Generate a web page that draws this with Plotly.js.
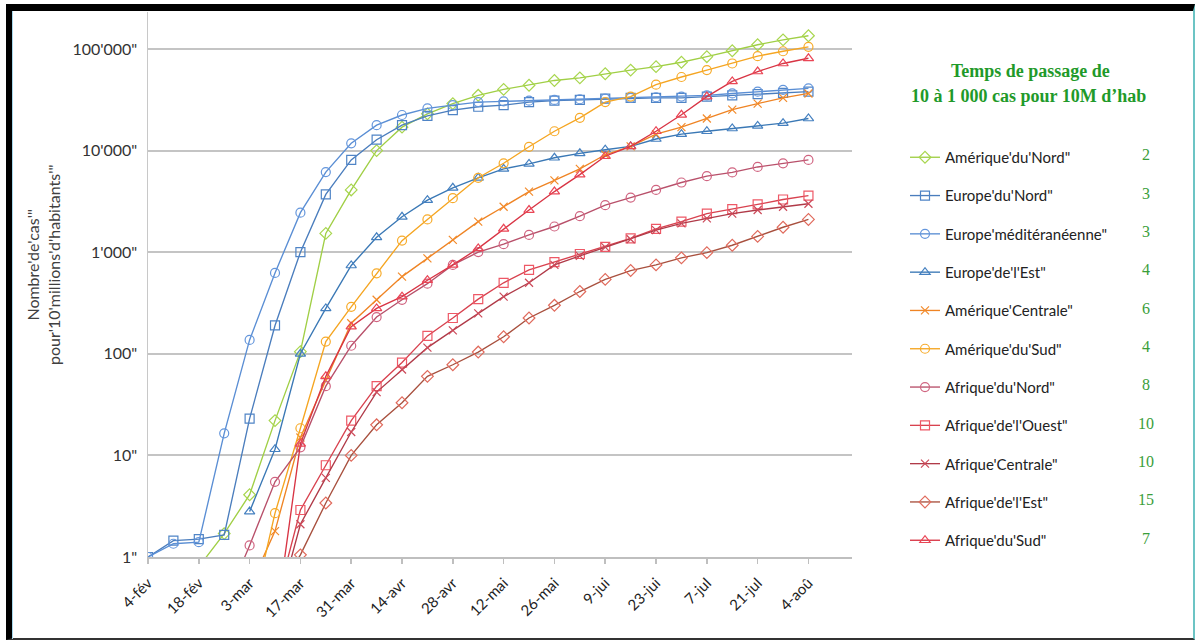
<!DOCTYPE html>
<html>
<head>
<meta charset="utf-8">
<script src="https://cdn.plot.ly/plotly-3.0.1.min.js"></script>
<style>
  html, body { margin: 0; padding: 0; background: #ffffff; }
  #wrap { position: relative; width: 1196px; height: 641px; overflow: hidden; }
  #chart { position: absolute; left: 0; top: 0; width: 1196px; height: 641px; }
  #frame { position: absolute; left: 6px; top: 4px; width: 1181px; height: 627px;
           border-top: 7px solid #000; border-left: 6px solid #000;
           border-right: 2px solid #6cc4c4; border-bottom: 2px solid #333;
           pointer-events: none; }
  #inner { position: absolute; left: 12px; top: 11px; width: 1px; height: 628px; background: #a8d8ec; pointer-events: none; }
</style>
</head>
<body>
<div id="wrap">
  <div id="chart"></div>
  <div id="frame"></div>
  <div id="inner"></div>
</div>
<script>
// Weekly dates (categories)
const weeks = ['2020-02-04','2020-02-11','2020-02-18','2020-02-25','2020-03-03','2020-03-10','2020-03-17',
  '2020-03-24','2020-03-31','2020-04-07','2020-04-14','2020-04-21','2020-04-28','2020-05-05','2020-05-12',
  '2020-05-19','2020-05-26','2020-06-02','2020-06-09','2020-06-16','2020-06-23','2020-06-30','2020-07-07',
  '2020-07-14','2020-07-21','2020-07-28','2020-08-04'];

// X tick positions and labels
const tickDates = ['2020-02-04','2020-02-18','2020-03-03','2020-03-17','2020-03-31','2020-04-14','2020-04-28',
  '2020-05-12','2020-05-26','2020-06-09','2020-06-23','2020-07-07','2020-07-21','2020-08-04'];
const tickLabels = ['4-fév','18-fév','3-mar','17-mar','31-mar','14-avr','28-avr','12-mai','26-mai',
  '9-jui','23-jui','7-jul','21-jul','4-aoû'];

// Y ticks
const yTickVals = [1, 10, 100, 1000, 10000, 100000];
const yTickText = ['1"', '10"', '100"', "1'000\"", "10'000\"", "100'000\""];

// Series values (cases per 10 million inhabitants)
const amNord     = [null,null,0.8,1.7,4.1,22,105,1530,4100,10000,17000,23000,29000,35000,40000,44000,49000,52000,57000,62000,67000,74000,84000,96000,110000,123000,135000];
const euNord     = [1,1.45,1.5,1.65,23,190,1000,3700,8100,12800,17800,22000,25000,27000,28000,30000,31000,31500,32500,33000,33000,33000,34000,35000,36000,37000,38000];
const euMed      = [1,1.35,1.4,16.5,137,625,2450,6150,11800,17800,22400,26000,28000,30000,30500,31000,31500,32000,32500,33000,33500,34000,35000,36500,38000,39500,41000];
const euEst      = [null,null,null,null,2.8,11.5,100,280,740,1400,2230,3250,4300,5400,6600,7400,8500,9400,10200,11000,13000,14500,15500,16500,17500,18600,20700];
const amCentrale = [null,null,null,null,0.5,1.8,15,55,200,340,575,870,1320,2000,2800,3950,5100,6600,9100,11000,14500,17000,20700,25300,29000,33000,36500];
const amSud      = [null,null,null,null,0.22,2.7,18.5,132,290,620,1300,2100,3400,5400,7500,10900,15500,21000,30000,34000,44500,53000,62000,72000,85000,95000,105000];
const afNord     = [null,null,null,0.33,1.3,5.5,12,48,120,230,340,490,750,1000,1200,1480,1790,2260,2900,3450,4100,4850,5600,6100,6900,7500,8100];
const afOuest    = [null,null,null,null,null,0.32,2.9,8,22,48,82,150,225,345,500,670,800,960,1130,1370,1700,2000,2400,2650,2950,3300,3600];
const afCentrale = [null,null,null,null,null,0.25,2.1,6,17,42,70,115,170,250,365,500,750,920,1120,1340,1650,1920,2150,2400,2600,2800,3000];
const afEst      = [null,null,null,null,null,0.4,1.05,3.4,10,20,33,60,78,104,147,225,300,410,540,660,750,880,990,1170,1430,1760,2100];
const afSud      = [null,null,null,null,null,0.2,13,60,185,280,365,530,750,1090,1700,2600,3950,5800,8800,11000,15500,22500,34000,48000,60000,72000,81000];

// Legend names and "time from 10 to 1000 cases" numbers
const names = ["Amérique'du'Nord\"", "Europe'du'Nord\"", "Europe'méditéranéenne\"", "Europe'de'l'Est\"",
  "Amérique'Centrale\"", "Amérique'du'Sud\"", "Afrique'du'Nord\"", "Afrique'de'l'Ouest\"",
  "Afrique'Centrale\"", "Afrique'de'l'Est\"", "Afrique'du'Sud\""];
const passage = ['2','3','3','4','6','4','8','10','10','15','7'];

const seriesValues = [amNord, euNord, euMed, euEst, amCentrale, amSud, afNord, afOuest, afCentrale, afEst, afSud];
const lineColors   = ['#a0cf45','#4a7dbd','#5a8ed4','#3a78b5','#ef8424','#f5a521','#b8506a','#d8424f','#b03a48','#a8503e','#d83444'];
const markerColors = ['#a8d64e','#4f84c6','#6496dc','#4580c0','#f28a2a','#f7ab2a','#d06480','#ee5866','#cc4858','#e06a5c','#ea4656'];
const symbols = ['diamond-open','square-open','circle-open','triangle-up-open','x-thin-open','circle-open',
  'circle-open','square-open','x-thin-open','diamond-open','triangle-up-open'];

const traces = seriesValues.map((vals, i) => ({
  type: 'scatter', mode: 'lines+markers',
  x: weeks, y: vals, name: names[i], legendgroup: 'g' + i,
  line: {color: lineColors[i], width: 1.35},
  marker: {symbol: symbols[i], size: symbols[i].startsWith('x') ? 8 : 9,
           color: markerColors[i], line: {color: markerColors[i], width: 1.2}},
  connectgaps: false, cliponaxis: true
}));

const plotL = 148, plotW = 704, plotT = 12, plotH = 545;
const px2x = p => (p - plotL) / plotW;
const py2y = p => (plotT + plotH - p) / plotH;

const annotations = [];
annotations.push({xref:'paper', yref:'paper', x: px2x(1030), y: py2y(71), text:'<b>Temps de passage de</b>',
  showarrow:false, xanchor:'center', yanchor:'middle', font:{family:'Liberation Serif, serif', size:18, color:'#1f9a2a'}});
annotations.push({xref:'paper', yref:'paper', x: px2x(1028), y: py2y(96), text:"<b>10 à 1 000 cas pour 10M d’hab</b>",
  showarrow:false, xanchor:'center', yanchor:'middle', font:{family:'Liberation Serif, serif', size:18, color:'#1f9a2a'}});
passage.forEach((t, i) => {
  annotations.push({xref:'paper', yref:'paper', x: px2x(1146), y: py2y(155 + 38.3 * i), text: t,
    showarrow:false, xanchor:'center', yanchor:'middle', font:{family:'Liberation Serif, serif', size:16, color:'#3a9e3a'}});
});
annotations.push({xref:'paper', yref:'paper', x: px2x(43), y: py2y(265), textangle: -90,
  text: "Nombre'de'cas'\"<br>pour'10'millions'd'habitants'\"", showarrow:false, xanchor:'center', yanchor:'middle',
  font:{family:'Lato, sans-serif', size:16, color:'#404040'}});

const layout = {
  width: 1196, height: 641,
  margin: {l: plotL, r: 1196 - plotL - plotW, t: plotT, b: 641 - plotT - plotH, pad: 0},
  paper_bgcolor: 'rgba(0,0,0,0)', plot_bgcolor: '#ffffff',
  font: {family: 'Lato, sans-serif', color: '#333'},
  showlegend: true,
  legend: {x: px2x(905), y: py2y(141), xanchor: 'left', yanchor: 'top', tracegroupgap: 15.8,
           font: {family: 'Lato, sans-serif', size: 15, color: '#222'}, bgcolor: 'rgba(0,0,0,0)', borderwidth: 0},
  xaxis: {type: 'date', range: ['2020-02-04', '2020-08-16'], tickvals: tickDates, ticktext: tickLabels,
          tickangle: -45, ticks: 'outside', ticklen: 5, tickcolor: '#bfbfbf', tickwidth: 1.5,
          ticklabelstandoff: 5,
          showgrid: false, showline: true, linecolor: '#bfbfbf', linewidth: 1.5, zeroline: false,
          tickfont: {family: 'Lato, sans-serif', size: 15, color: '#222'}},
  yaxis: {type: 'log', range: [0, 5.364], tickvals: yTickVals, ticktext: yTickText,
          showgrid: true, gridcolor: '#c4c4c4', gridwidth: 2, showline: true, linecolor: '#c8c8c8', linewidth: 1.5,
          ticks: '', ticklabelstandoff: 6, zeroline: false,
          tickfont: {family: 'Lato, sans-serif', size: 16, color: '#333'}},
  annotations: annotations
};

Plotly.newPlot('chart', traces, layout, {displayModeBar: false, staticPlot: true});
</script>
</body>
</html>
